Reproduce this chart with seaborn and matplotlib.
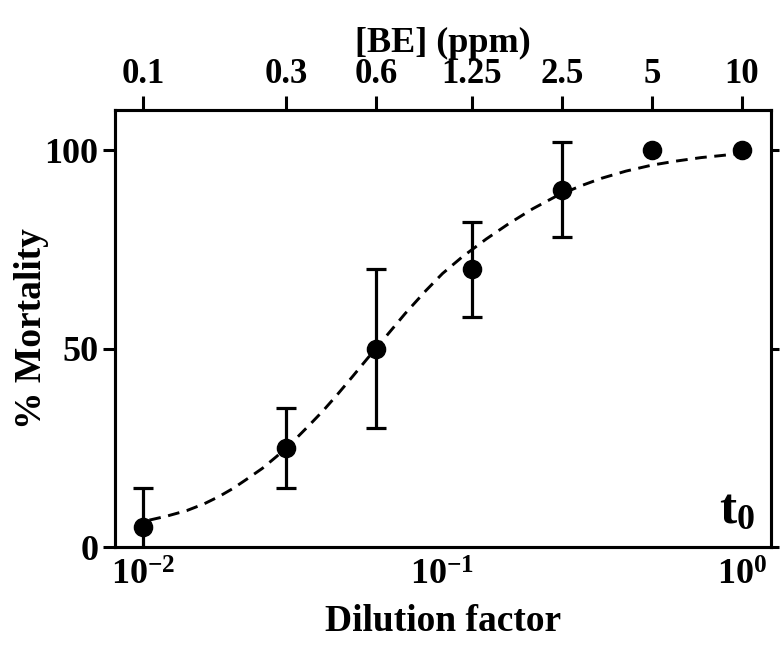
import numpy as np
import matplotlib
matplotlib.use('Agg')
import matplotlib.pyplot as plt
import seaborn as sns

# %%
# Data
dilution = [0.01, 0.03, 0.06, 0.125, 0.25, 0.5, 1.0]
ppm_labels = ['0.1', '0.3', '0.6', '1.25', '2.5', '5', '10']
mortality = [5, 25, 50, 70, 90, 100, 100]
mortality_sd = [10, 10, 20, 12, 12, 0, 0]

# dashed fitted curve
fit_x = [0.0105, 0.012, 0.014, 0.016, 0.018, 0.020, 0.022, 0.025, 0.028,
         0.032, 0.036, 0.040, 0.045, 0.050, 0.056, 0.064, 0.075, 0.088,
         0.10, 0.116, 0.14, 0.166, 0.20, 0.24, 0.29, 0.34, 0.41, 0.50,
         0.60, 0.73, 0.85, 0.95]
fit_y = [6.8, 7.8, 9.2, 10.9, 12.8, 14.8, 16.9, 19.8, 22.9,
         26.9, 30.8, 34.4, 38.8, 42.9, 47.4, 52.6, 58.8, 64.6,
         68.9, 73.0, 77.6, 81.4, 85.2, 88.4, 91.0, 92.9, 94.7, 96.2,
         97.2, 98.1, 98.6, 99.0]

bottom_ticks = [0.01, 0.1, 1.0]
bottom_labels = [r'10$^{-2}$', r'10$^{-1}$', r'10$^{0}$']

# %%
sns.set_theme(style='ticks')
plt.rcParams['font.family'] = ['Liberation Serif', 'DejaVu Serif']
plt.rcParams['font.weight'] = 'bold'
plt.rcParams['mathtext.fontset'] = 'custom'
plt.rcParams['mathtext.rm'] = 'Liberation Serif:bold'
plt.rcParams['mathtext.bf'] = 'Liberation Serif:bold'
plt.rcParams['mathtext.default'] = 'rm'
plt.rcParams['axes.linewidth'] = 2.2
for key in ['text.color', 'axes.labelcolor', 'xtick.color', 'ytick.color',
            'axes.edgecolor']:
    plt.rcParams[key] = 'black'

fig = plt.figure(figsize=(7.82, 6.49), dpi=100)
ax = fig.add_axes([0.147, 0.157, 0.839, 0.673])

sns.lineplot(x=fit_x, y=fit_y, ax=ax, color='black', lw=2.1,
             linestyle=(0, (4, 2.6)), estimator=None, zorder=2)

err_x = [d for d, s in zip(dilution, mortality_sd) if s > 0]
err_y = [m for m, s in zip(mortality, mortality_sd) if s > 0]
err_s = [s for s in mortality_sd if s > 0]
ax.errorbar(err_x, err_y, yerr=err_s, fmt='none', ecolor='black',
            elinewidth=2.3, capsize=7, capthick=2.3, zorder=3)

sns.scatterplot(x=dilution, y=mortality, ax=ax, color='black',
                edgecolor='black', s=170, zorder=4)

ax.set_xscale('log')
ax.set_xlim(0.00806, 1.25)
ax.set_ylim(0, 110)

ax.set_xticks(bottom_ticks)
ax.set_xticklabels(bottom_labels)
ax.xaxis.set_minor_locator(matplotlib.ticker.NullLocator())
ax.tick_params(axis='x', which='both', length=0, pad=9, labelsize=26)

ax.set_yticks([0, 50, 100])
ax.yaxis.set_ticks_position('both')
ax.tick_params(axis='y', which='major', direction='out', length=9, width=2.2,
               pad=3, labelsize=26)
ax.tick_params(axis='y', right=True, labelright=False)
for t in ax.yaxis.get_major_ticks():
    t.tick2line.set_markersize(6)

ax.set_xlabel('Dilution factor', fontsize=27, fontweight='bold', labelpad=8)
ax.set_ylabel('% Mortality', fontsize=27, fontweight='bold')
ax.yaxis.set_label_coords(-0.1, 0.5)

# top axis: BE concentration
ax2 = ax.twiny()
ax2.set_xscale('log')
ax2.set_xlim(ax.get_xlim())
ax2.set_xticks(dilution)
ax2.set_xticklabels(ppm_labels)
ax2.xaxis.set_minor_locator(matplotlib.ticker.NullLocator())
ax2.tick_params(axis='x', direction='out', length=10, width=2.2, pad=4,
                labelsize=25)
ax2.set_xlabel('[BE] (ppm)', fontsize=26, fontweight='bold', labelpad=4)

ax.text(0.975, 0.03, r't$_{0}$', transform=ax.transAxes, ha='right',
        va='bottom', fontsize=37, fontweight='bold')

fig.savefig('out.png', dpi=100, facecolor='white')
